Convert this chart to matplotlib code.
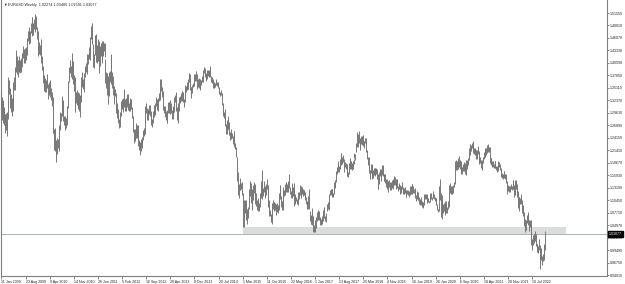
import numpy as np
import matplotlib
matplotlib.use("Agg")
import matplotlib.pyplot as plt
from matplotlib.patches import Rectangle

# ---------------- data (weekly bars, first week = 11 Jan 2009) ----------------
high_2009 = [1.345,1.330,1.325,1.300,1.309,1.293,1.295,1.272,1.297,1.374,1.369,1.351,1.346,1.337,1.328,1.335,
             1.363,1.376,1.398,1.416,1.434,1.420,1.412,1.414,1.422,1.412,1.417,1.428,1.428,1.444,1.436,1.438,
             1.440,1.434,1.460,1.475,1.484,1.471,1.477,1.493,1.506,1.506,1.494,1.502,1.500,1.514,1.510,1.485,
             1.475,1.443,1.451]
low_2009 = [1.302,1.280,1.275,1.270,1.278,1.252,1.258,1.246,1.265,1.283,1.337,1.306,1.313,1.298,1.289,1.300,
            1.319,1.346,1.347,1.387,1.401,1.381,1.375,1.385,1.391,1.383,1.386,1.407,1.398,1.416,1.405,1.405,
            1.419,1.413,1.424,1.453,1.459,1.448,1.450,1.472,1.485,1.465,1.467,1.481,1.473,1.484,1.480,1.459,
            1.431,1.422,1.426]
high_2010 = [1.445,1.458,1.448,1.420,1.400,1.379,1.378,1.372,1.369,1.382,1.380,1.360,1.364,1.367,1.369,1.350,
             1.343,1.330,1.310,1.260,1.262,1.236,1.220,1.240,1.239,1.251,1.270,1.297,1.295,1.309,1.333,1.325,
             1.289,1.276,1.290,1.285,1.312,1.350,1.366,1.398,1.412,1.400,1.396,1.428,1.411,1.379,1.375,1.345,
             1.343,1.347,1.330,1.343]
low_2010 = [1.423,1.436,1.405,1.390,1.361,1.353,1.344,1.343,1.343,1.357,1.350,1.327,1.336,1.331,1.345,1.324,
            1.311,1.253,1.252,1.215,1.212,1.194,1.188,1.205,1.218,1.213,1.250,1.258,1.278,1.290,1.305,1.278,
            1.269,1.259,1.263,1.264,1.269,1.306,1.341,1.363,1.384,1.376,1.370,1.387,1.359,1.345,1.318,1.297,
            1.318,1.313,1.304,1.307]
high_2011 = [1.339,1.336,1.350,1.375,1.385,1.370,1.372,1.384,1.400,1.405,1.410,1.425,1.425,1.440,1.452,1.463,
             1.487,1.494,1.447,1.435,1.426,1.468,1.470,1.450,1.446,1.458,1.454,1.432,1.443,1.450,1.453,1.440,
             1.455,1.450,1.450,1.414,1.386,1.383,1.377,1.350,1.386,1.388,1.425,1.420,1.385,1.378,1.356,1.352,
             1.349,1.339,1.317,1.310]
low_2011 = [1.300,1.287,1.321,1.339,1.353,1.349,1.343,1.351,1.374,1.385,1.382,1.401,1.403,1.414,1.432,1.412,
            1.458,1.448,1.420,1.397,1.395,1.423,1.441,1.407,1.406,1.410,1.423,1.384,1.400,1.422,1.410,1.405,
            1.420,1.431,1.418,1.361,1.350,1.336,1.336,1.315,1.333,1.365,1.370,1.360,1.350,1.335,1.315,1.320,
            1.333,1.295,1.299,1.286]
high_2012 = [1.305,1.283,1.297,1.321,1.323,1.326,1.328,1.346,1.349,1.327,1.328,1.330,1.338,1.338,1.318,1.322,
             1.328,1.326,1.310,1.290,1.283,1.260,1.260,1.264,1.275,1.270,1.269,1.234,1.236,1.232,1.239,1.244,
             1.237,1.259,1.263,1.283,1.312,1.317,1.306,1.305,1.300,1.314,1.313,1.300,1.288,1.282,1.301,1.303,
             1.313,1.317,1.331,1.326,1.320]
low_2012 = [1.275,1.262,1.265,1.290,1.297,1.305,1.297,1.310,1.314,1.300,1.300,1.310,1.320,1.303,1.300,1.301,
            1.308,1.304,1.285,1.264,1.254,1.229,1.235,1.240,1.250,1.240,1.223,1.216,1.215,1.204,1.213,1.229,
            1.220,1.237,1.245,1.250,1.275,1.295,1.280,1.283,1.280,1.294,1.290,1.279,1.269,1.266,1.275,1.288,
            1.293,1.291,1.312,1.310,1.302]
high_2013 = [1.329,1.340,1.348,1.370,1.371,1.352,1.344,1.322,1.312,1.311,1.301,1.298,1.302,1.319,1.320,1.310,
             1.324,1.318,1.303,1.300,1.311,1.330,1.336,1.342,1.321,1.310,1.318,1.318,1.330,1.334,1.340,1.345,
             1.345,1.343,1.326,1.335,1.357,1.356,1.365,1.362,1.371,1.383,1.381,1.352,1.352,1.357,1.362,1.370,
             1.381,1.381,1.389,1.382]
low_2013 = [1.300,1.323,1.325,1.342,1.344,1.332,1.313,1.302,1.296,1.287,1.280,1.275,1.275,1.295,1.295,1.293,
            1.305,1.296,1.282,1.283,1.290,1.297,1.321,1.316,1.300,1.281,1.275,1.300,1.311,1.317,1.323,1.323,
            1.331,1.319,1.310,1.320,1.327,1.343,1.346,1.348,1.348,1.364,1.347,1.329,1.337,1.339,1.352,1.355,
            1.369,1.366,1.366,1.359]
high_2014 = [1.367,1.370,1.372,1.370,1.362,1.369,1.377,1.382,1.390,1.397,1.394,1.383,1.381,1.390,1.390,1.386,
             1.390,1.399,1.378,1.374,1.367,1.370,1.364,1.362,1.365,1.370,1.365,1.363,1.353,1.345,1.343,1.346,
             1.340,1.324,1.318,1.297,1.304,1.285,1.272,1.281,1.289,1.282,1.276,1.254,1.252,1.260,1.252,1.246,
             1.257,1.256,1.230,1.222]
low_2014 = [1.348,1.354,1.350,1.348,1.347,1.358,1.364,1.363,1.372,1.383,1.374,1.370,1.367,1.370,1.377,1.376,
            1.380,1.376,1.365,1.362,1.358,1.350,1.350,1.352,1.358,1.359,1.355,1.350,1.342,1.337,1.333,1.335,
            1.324,1.313,1.290,1.285,1.282,1.267,1.250,1.250,1.261,1.261,1.248,1.236,1.240,1.238,1.242,1.228,
            1.227,1.222,1.217,1.200]
high_2015 = [1.200,1.185,1.166,1.140,1.153,1.146,1.143,1.145,1.121,1.088,1.104,1.105,1.104,1.103,1.084,1.090,
             1.121,1.130,1.147,1.142,1.106,1.130,1.138,1.144,1.141,1.124,1.121,1.105,1.100,1.110,1.099,1.121,
             1.147,1.171,1.132,1.131,1.146,1.135,1.130,1.139,1.150,1.138,1.110,1.105,1.083,1.075,1.068,1.098,
             1.105,1.100,1.100,1.098]
low_2015 = [1.175,1.146,1.115,1.110,1.127,1.127,1.128,1.116,1.084,1.046,1.046,1.076,1.072,1.062,1.052,1.066,
            1.086,1.107,1.113,1.099,1.082,1.090,1.105,1.120,1.113,1.095,1.092,1.082,1.081,1.092,1.080,1.090,
            1.109,1.117,1.108,1.113,1.123,1.111,1.110,1.116,1.130,1.100,1.090,1.070,1.069,1.056,1.058,1.052,
            1.085,1.080,1.086,1.083]
high_2016 = [1.095,1.097,1.098,1.094,1.120,1.138,1.129,1.113,1.103,1.122,1.134,1.127,1.140,1.145,1.144,1.140,
             1.146,1.162,1.145,1.134,1.124,1.139,1.142,1.134,1.143,1.117,1.113,1.112,1.108,1.120,1.123,1.122,
             1.137,1.136,1.123,1.133,1.129,1.127,1.126,1.123,1.112,1.102,1.099,1.113,1.130,1.080,1.069,1.071,
             1.087,1.069,1.046,1.050]
low_2016 = [1.071,1.080,1.078,1.077,1.082,1.113,1.107,1.089,1.082,1.082,1.107,1.114,1.115,1.133,1.123,1.122,
            1.122,1.140,1.131,1.119,1.110,1.110,1.127,1.113,1.091,1.097,1.100,1.102,1.095,1.094,1.107,1.107,
            1.116,1.118,1.110,1.117,1.113,1.116,1.115,1.105,1.096,1.086,1.085,1.094,1.085,1.059,1.052,1.053,
            1.050,1.035,1.035,1.036]
high_2017 = [1.062,1.068,1.073,1.078,1.083,1.080,1.068,1.066,1.063,1.070,1.076,1.082,1.090,1.070,1.068,1.077,
             1.095,1.100,1.100,1.118,1.127,1.129,1.130,1.130,1.120,1.145,1.144,1.149,1.168,1.178,1.191,1.183,
             1.180,1.194,1.207,1.209,1.199,1.204,1.194,1.180,1.188,1.186,1.183,1.169,1.167,1.187,1.193,1.196,
             1.190,1.186,1.190,1.194,1.209]
low_2017 = [1.034,1.044,1.058,1.064,1.062,1.061,1.052,1.049,1.049,1.052,1.058,1.072,1.065,1.058,1.057,1.066,
            1.081,1.086,1.083,1.093,1.115,1.115,1.118,1.112,1.112,1.118,1.131,1.136,1.144,1.161,1.170,1.166,
            1.166,1.174,1.182,1.188,1.183,1.188,1.172,1.167,1.178,1.173,1.157,1.157,1.156,1.161,1.172,1.184,
            1.172,1.171,1.172,1.183,1.196]
high_2018 = [1.206,1.230,1.254,1.252,1.249,1.256,1.241,1.239,1.245,1.245,1.245,1.248,1.234,1.240,1.241,1.232,
             1.214,1.199,1.200,1.179,1.170,1.185,1.185,1.165,1.170,1.175,1.176,1.175,1.175,1.174,1.163,1.145,
             1.166,1.173,1.165,1.172,1.181,1.182,1.162,1.163,1.162,1.150,1.146,1.150,1.147,1.148,1.142,1.144,
             1.144,1.148,1.148,1.150]
low_2018 = [1.192,1.211,1.221,1.238,1.221,1.229,1.226,1.215,1.228,1.226,1.223,1.229,1.220,1.229,1.227,1.211,
            1.194,1.182,1.175,1.164,1.151,1.164,1.154,1.151,1.153,1.160,1.161,1.157,1.163,1.152,1.130,1.130,
            1.140,1.157,1.147,1.156,1.160,1.158,1.147,1.146,1.143,1.134,1.130,1.131,1.122,1.133,1.127,1.131,
            1.127,1.131,1.137,1.130]
high_2019 = [1.157,1.155,1.145,1.151,1.150,1.136,1.140,1.142,1.138,1.135,1.145,1.134,1.127,1.132,1.133,1.127,
             1.127,1.126,1.126,1.122,1.124,1.135,1.135,1.141,1.141,1.136,1.129,1.131,1.125,1.115,1.125,1.123,
             1.114,1.111,1.106,1.111,1.108,1.103,1.100,1.105,1.117,1.118,1.117,1.118,1.108,1.109,1.103,1.112,
             1.120,1.120,1.111,1.124]
low_2019 = [1.138,1.137,1.129,1.137,1.132,1.124,1.128,1.130,1.118,1.120,1.130,1.120,1.118,1.118,1.121,1.111,
            1.112,1.117,1.115,1.111,1.114,1.115,1.118,1.118,1.132,1.120,1.120,1.120,1.110,1.103,1.108,1.105,
            1.105,1.096,1.093,1.093,1.096,1.090,1.088,1.093,1.099,1.107,1.106,1.102,1.099,1.101,1.098,1.100,
            1.104,1.107,1.105,1.113]
high_2020 = [1.117,1.117,1.112,1.110,1.110,1.096,1.085,1.103,1.136,1.150,1.120,1.114,1.115,1.097,1.099,1.093,
             1.102,1.102,1.089,1.102,1.114,1.138,1.142,1.135,1.135,1.130,1.137,1.145,1.166,1.191,1.192,1.190,
             1.197,1.191,1.201,1.192,1.190,1.187,1.177,1.183,1.183,1.188,1.186,1.192,1.192,1.190,1.197,1.218,
             1.216,1.227,1.226,1.231]
low_2020 = [1.109,1.108,1.102,1.099,1.094,1.083,1.078,1.080,1.103,1.105,1.068,1.064,1.077,1.077,1.081,1.073,
            1.080,1.077,1.077,1.086,1.089,1.110,1.120,1.117,1.117,1.118,1.121,1.134,1.140,1.163,1.170,1.171,
            1.175,1.172,1.178,1.174,1.174,1.161,1.162,1.169,1.169,1.170,1.162,1.160,1.173,1.180,1.181,1.192,
            1.203,1.211,1.213,1.218]
high_2021 = [1.235,1.222,1.218,1.218,1.214,1.215,1.215,1.224,1.212,1.199,1.199,1.193,1.180,1.192,1.199,1.210,
             1.215,1.218,1.218,1.225,1.227,1.225,1.222,1.221,1.197,1.196,1.190,1.190,1.183,1.190,1.190,1.180,
             1.180,1.180,1.191,1.188,1.185,1.176,1.173,1.164,1.162,1.169,1.169,1.161,1.161,1.146,1.131,1.138,
             1.136,1.136,1.135,1.139]
low_2021 = [1.219,1.207,1.205,1.204,1.195,1.203,1.195,1.206,1.189,1.184,1.186,1.176,1.170,1.176,1.187,1.194,
            1.200,1.199,1.204,1.207,1.216,1.210,1.210,1.186,1.185,1.181,1.178,1.177,1.175,1.176,1.176,1.171,
            1.166,1.169,1.178,1.177,1.170,1.168,1.156,1.153,1.152,1.157,1.153,1.151,1.143,1.126,1.118,1.124,
            1.122,1.122,1.127,1.128]
high_2022 = [1.135,1.148,1.148,1.137,1.148,1.149,1.139,1.139,1.124,1.112,1.112,1.110,1.118,1.105,1.095,1.094,
             1.078,1.064,1.059,1.060,1.073,1.079,1.077,1.060,1.061,1.062,1.049,1.020,1.028,1.025,1.030,1.037,
             1.030,1.009,1.008,1.003,1.020,1.005,0.985,0.999,0.981,0.987,1.009,0.998,1.036]
low_2022 = [1.127,1.129,1.128,1.112,1.115,1.134,1.128,1.111,1.087,1.081,1.091,1.096,1.097,1.084,1.076,1.070,
            1.047,1.048,1.035,1.039,1.055,1.062,1.050,1.036,1.045,1.035,1.007,0.995,1.005,1.010,1.012,1.014,
            1.003,0.990,0.991,0.988,0.996,0.968,0.954,0.973,0.963,0.970,0.985,0.973,0.994]

highs = (high_2009 + high_2010 + high_2011 + high_2012 + high_2013 + high_2014 + high_2015 +
         high_2016 + high_2017 + high_2018 + high_2019 + high_2020 + high_2021 + high_2022)
lows = (low_2009 + low_2010 + low_2011 + low_2012 + low_2013 + low_2014 + low_2015 +
        low_2016 + low_2017 + low_2018 + low_2019 + low_2020 + low_2021 + low_2022)

date_labels = ["11 Jan 2009", "23 Aug 2009", "9 Apr 2010", "14 Nov 2010", "26 Jun 2011", "5 Feb 2012",
               "16 Sep 2012", "28 Apr 2013", "8 Dec 2013", "20 Jul 2014", "1 Mar 2015", "11 Oct 2015",
               "22 May 2016", "1 Jan 2017", "13 Aug 2017", "25 Mar 2018", "4 Nov 2018", "16 Jun 2019",
               "26 Jan 2020", "6 Sep 2020", "18 Apr 2021", "28 Nov 2021", "10 Jul 2022"]
label_step_weeks = 32

price_ticks = [1.51550, 1.48810, 1.46070, 1.43330, 1.40590, 1.37850, 1.35110, 1.32370, 1.29630,
               1.26890, 1.24150, 1.21410, 1.18670, 1.15930, 1.13190, 1.10450, 1.07710, 1.04970,
               1.02230, 0.99490, 0.96750, 0.94010]

current_price = 1.03077
title_text = "EURUSD,Weekly  1.02274 1.03486 1.02591 1.03077"
zone_low, zone_high = 1.0295, 1.0460
zone_start_week, zone_end_week = 320, 749

# ---------------- figure ----------------
W, H = 625, 284
fig = plt.figure(figsize=(W / 100, H / 100), dpi=100)
ax = fig.add_axes([1 / W, 8 / H, 606 / W, 276 / H])
ax.set_facecolor("white")

x = np.arange(len(highs))
ax.vlines(x, lows, highs, color="#777777", linewidth=0.7, zorder=3)

ax.add_patch(Rectangle((zone_start_week, zone_low), zone_end_week - zone_start_week,
                       zone_high - zone_low, facecolor="#dcdcdc", edgecolor="none", zorder=2))
ax.axhline(current_price, color="#a9b3bd", linewidth=0.7, zorder=2)

ax.set_xlim(-0.5, 803.2)
ax.set_ylim(0.93795, 1.54405)

ax.spines["top"].set_visible(False)
for side in ["left", "right", "bottom"]:
    ax.spines[side].set_color("#7f7f7f")
    ax.spines[side].set_linewidth(0.8)

fnt = ["Liberation Sans", "DejaVu Sans"]
ax.set_xticks(np.arange(len(date_labels)) * label_step_weeks)
ax.set_xticklabels(date_labels, fontsize=2.6, family=fnt, color="#222222", ha="left")
ax.tick_params(axis="x", length=2.0, width=0.5, color="#555555", pad=1.0)

ax.yaxis.tick_right()
ax.set_yticks(price_ticks)
ax.set_yticklabels([f"{v:.5f}" for v in price_ticks], fontsize=2.6, family=fnt, color="#222222")
ax.tick_params(axis="y", length=1.5, width=0.5, color="#555555", pad=0.8)

ax.text(0.003, 0.982, "\u25bc", transform=ax.transAxes, fontsize=2.6, family=fnt,
        va="center", ha="left", color="#222222")
ax.text(0.012, 0.982, title_text, transform=ax.transAxes, fontsize=2.7, family=fnt,
        va="center", ha="left", color="#222222")

ax.text(1.0 + 2 / 606, current_price, f"{current_price:.5f}", transform=ax.get_yaxis_transform(),
        fontsize=2.6, family=fnt, color="white", va="center", ha="left", zorder=10,
        bbox=dict(boxstyle="square,pad=0.25", facecolor="black", edgecolor="black"), clip_on=False)

fig.savefig("out.png", dpi=100, facecolor="white")
